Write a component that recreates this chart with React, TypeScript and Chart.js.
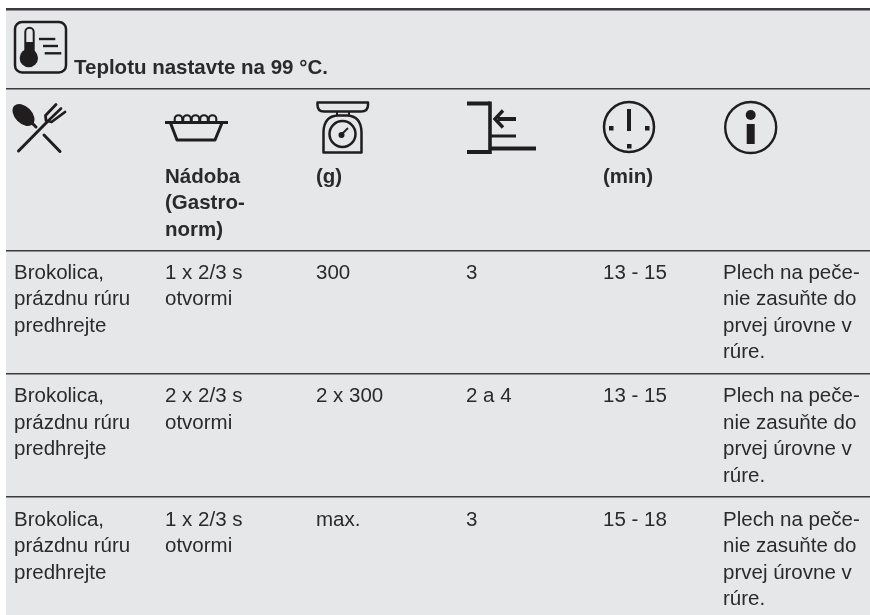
import React, { useEffect, useRef } from "react";
import { Chart, registerables } from "chart.js";

Chart.register(...registerables);

const title = "Teplotu nastavte na 99 °C.";
const headers = ["", "Nádoba\n(Gastro-\nnorm)", "(g)", "", "(min)", ""];
const foods = ["Brokolica,\nprázdnu rúru\npredhrejte", "Brokolica,\nprázdnu rúru\npredhrejte", "Brokolica,\nprázdnu rúru\npredhrejte"];
const containers = ["1 x 2/3 s\notvormi", "2 x 2/3 s\notvormi", "1 x 2/3 s\notvormi"];
const weights = ["300", "2 x 300", "max."];
const levels = ["3", "2 a 4", "3"];
const times = ["13 - 15", "13 - 15", "15 - 18"];
const notes = ["Plech na peče-\nnie zasuňte do\nprvej úrovne v\nrúre.", "Plech na peče-\nnie zasuňte do\nprvej úrovne v\nrúre.", "Plech na peče-\nnie zasuňte do\nprvej úrovne v\nrúre."];
const columnStarts = [14, 165, 316, 466, 603, 723];
const rowBaselines = [278.5, 402, 525.5];
const headerBaseline = 182.5;
const ruleRows = [9, 89, 250.5, 373.5, 497];

const INK = "#2b2a2b";
const PAPER = "#e6e7e9";
const LINE = 26.6;

function line(c: any, pts: number[][], lw: number) {
  c.lineWidth = lw;
  c.beginPath();
  pts.forEach((p, i) => (i ? c.lineTo(p[0], p[1]) : c.moveTo(p[0], p[1])));
  c.stroke();
}

function drawIcons(c: any) {
  c.save();
  c.strokeStyle = "#1f1d1e";
  c.fillStyle = "#1f1d1e";
  c.lineCap = "butt";
  c.lineJoin = "round";

  // thermometer box
  c.lineWidth = 2.5;
  c.beginPath();
  c.roundRect(15, 22, 51, 50.5, 7);
  c.stroke();
  c.lineWidth = 2;
  c.beginPath();
  c.moveTo(25.3, 52);
  c.lineTo(25.3, 32);
  c.arc(29.5, 32, 4.2, Math.PI, 0);
  c.lineTo(33.7, 52);
  c.stroke();
  c.beginPath();
  c.arc(28.8, 58, 9.2, 0, Math.PI * 2);
  c.fill();
  c.fillRect(25.3, 42, 8.4, 10);
  line(c, [[39, 39], [55.3, 39]], 2.4);
  line(c, [[43, 46], [58, 46]], 2.4);
  line(c, [[44.7, 53.3], [61.3, 53.3]], 2.4);

  // spoon and fork
  c.lineCap = "round";
  c.save();
  c.translate(23.5, 115);
  c.rotate(Math.PI / 4);
  c.beginPath();
  c.ellipse(0, 0, 13, 8.5, 0, 0, Math.PI * 2);
  c.fill();
  c.restore();
  line(c, [[32, 123], [36, 127]], 3);
  line(c, [[44, 135], [60, 151.5]], 3);
  line(c, [[18.5, 151], [48, 121]], 3);
  c.lineJoin = "round";
  line(c, [[56, 104.5], [45.5, 115.5], [46, 120.5], [51.5, 122], [65, 112]], 2.8);
  line(c, [[61, 108.5], [49, 120]], 2.6);

  // dish
  c.lineCap = "butt";
  line(c, [[165, 122.5], [228, 122.5]], 3);
  line(c, [[170.5, 123], [177, 140], [215, 140], [222, 123]], 3);
  c.lineWidth = 2.1;
  for (let i = 0; i < 5; i++) {
    const x = 178.5 + i * 8.5;
    c.beginPath();
    c.moveTo(x - 3.8, 121.5);
    c.lineTo(x - 3.8, 119);
    c.arc(x, 119, 3.8, Math.PI, 0);
    c.lineTo(x + 3.8, 121.5);
    c.stroke();
  }

  // scale
  c.lineWidth = 2.5;
  c.beginPath();
  c.moveTo(317.5, 102.5);
  c.lineTo(368, 102.5);
  c.lineTo(368, 105);
  c.quadraticCurveTo(368, 111.5, 361, 111.5);
  c.lineTo(324, 111.5);
  c.quadraticCurveTo(317.5, 111.5, 317.5, 105);
  c.closePath();
  c.stroke();
  line(c, [[337, 112], [337, 116]], 2);
  line(c, [[349, 112], [349, 116]], 2);
  c.lineWidth = 2.5;
  c.beginPath();
  c.moveTo(323.5, 152.5);
  c.lineTo(323.5, 132);
  c.quadraticCurveTo(324, 116, 338, 115.5);
  c.lineTo(347, 115.5);
  c.quadraticCurveTo(361, 116, 361.5, 132);
  c.lineTo(361.5, 152.5);
  c.closePath();
  c.stroke();
  c.beginPath();
  c.arc(342.5, 134, 13, 0, Math.PI * 2);
  c.stroke();
  c.beginPath();
  c.arc(341.5, 135, 3, 0, Math.PI * 2);
  c.fill();
  line(c, [[342, 134], [348, 128]], 1.8);

  // shelf
  c.lineJoin = "miter";
  line(c, [[467, 103.5], [490, 103.5]], 4);
  line(c, [[490, 101.5], [490, 154]], 3.6);
  line(c, [[467, 152], [490, 152]], 4);
  line(c, [[490, 148.5], [536, 148.5]], 4);
  line(c, [[490, 136], [516, 136]], 3);
  line(c, [[498, 119], [516, 119]], 4);
  line(c, [[503, 110.5], [495, 119], [503, 127.5]], 3.4);

  // clock
  c.lineWidth = 2.5;
  c.beginPath();
  c.arc(629, 127, 25, 0, Math.PI * 2);
  c.stroke();
  c.fillRect(627, 109, 4, 22);
  c.fillRect(609, 126, 4.5, 4.5);
  c.fillRect(645, 126, 4.5, 4.5);
  c.fillRect(627, 144, 4.5, 4.5);

  // info
  c.lineWidth = 2.4;
  c.beginPath();
  c.arc(750.7, 127.5, 25.5, 0, Math.PI * 2);
  c.stroke();
  c.beginPath();
  c.arc(750.7, 115, 5, 0, Math.PI * 2);
  c.fill();
  c.fillRect(746.7, 124, 8, 20);
  c.restore();
}

const tablePlugin = {
  id: "tablePlugin",
  beforeDraw(chart: any) {
    const { ctx, chartArea: a } = chart;
    ctx.save();
    ctx.fillStyle = PAPER;
    ctx.fillRect(a.left, a.top, a.right - a.left, a.bottom - a.top);
    ctx.restore();
  },
  afterDraw(chart: any) {
    const { ctx, scales } = chart;
    const px = (v: number) => scales.x.getPixelForValue(v);
    const py = (v: number) => scales.y.getPixelForValue(v);
    ctx.save();
    ctx.fillStyle = INK;
    ctx.textAlign = "left";
    ctx.textBaseline = "alphabetic";
    const put = (s: string, x: number, y: number) =>
      s.split("\n").forEach((t, i) => ctx.fillText(t, px(x), py(y) + i * LINE));

    ctx.font = "bold 20.5px 'Liberation Sans'";
    put(title, 74, 74);
    headers.forEach((h, i) => h && put(h, columnStarts[i], headerBaseline));

    ctx.font = "20.5px 'Liberation Sans'";
    [foods, containers, weights, levels, times, notes].forEach((col, i) =>
      col.forEach((t, r) => put(t, columnStarts[i], rowBaselines[r]))
    );
    ctx.restore();
    drawIcons(ctx);
  },
};

export default function App() {
  const ref = useRef<HTMLCanvasElement>(null);
  useEffect(() => {
    const chart = new Chart(ref.current!, {
      type: "scatter",
      data: {
        datasets: [
          {
            data: rowBaselines.flatMap((y) => columnStarts.map((x) => ({ x, y }))),
            pointRadius: 0,
          },
        ],
      },
      options: {
        animation: false,
        responsive: false,
        layout: { padding: { left: 6, top: 8, right: 0, bottom: 0 } },
        plugins: { legend: { display: false }, tooltip: { enabled: false } },
        scales: {
          x: {
            type: "linear",
            display: false,
            min: 6,
            max: 870,
          },
          y: {
            type: "linear",
            min: 8,
            max: 615,
            reverse: true,
            afterBuildTicks: (s: any) => {
              s.ticks = ruleRows.map((value) => ({ value }));
            },
            grid: {
              color: "#3a3a3c",
              lineWidth: (c: any) => (c.index === 0 ? 2.5 : 1.6),
              drawTicks: false,
            },
            border: { display: false },
            ticks: { display: false },
          },
        },
      },
      plugins: [tablePlugin],
    } as any);
    return () => chart.destroy();
  }, []);
  return (
    <div style={{ position: "absolute", left: 0, top: 0, width: 870, height: 615 }}>
      <canvas ref={ref} width={870} height={615} style={{ display: "block" }} />
    </div>
  );
}
